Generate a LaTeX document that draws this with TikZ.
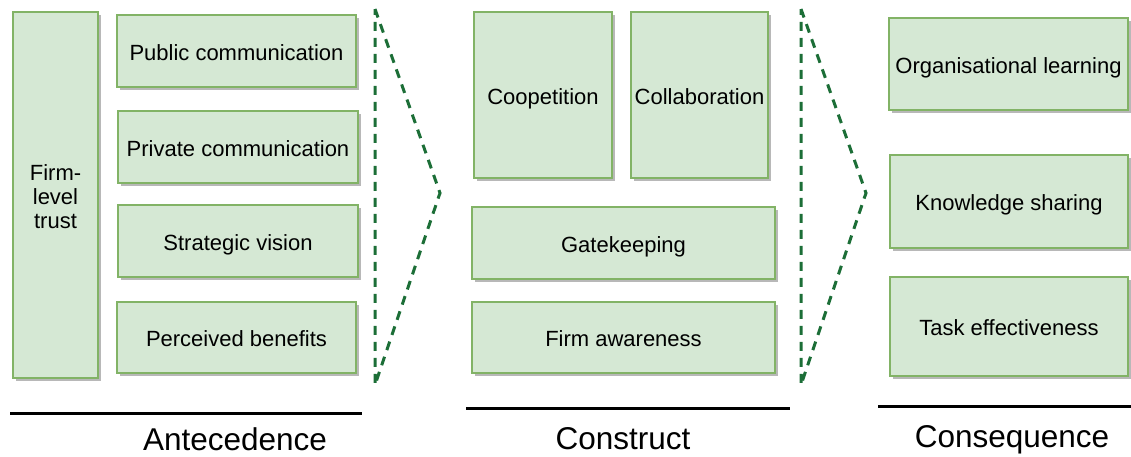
\documentclass[tikz,border=0pt]{standalone}
\usepackage{fontspec}
\setmainfont{Liberation Sans}
\usetikzlibrary{shadows}
\definecolor{boxfill}{HTML}{D5E8D4}
\definecolor{boxline}{HTML}{82B366}
\definecolor{chevgreen}{RGB}{28,110,55}
\tikzset{
  gbox/.style={draw=boxline, fill=boxfill, line width=1.5pt, inner sep=0pt, align=center,
    font=\fontsize{22}{25}\selectfont,
    drop shadow={fill=black!28, opacity=1, shadow xshift=3pt, shadow yshift=-3pt}},
  chev/.style={draw=chevgreen, line width=3pt, dash pattern=on 9pt off 7pt},
  baseline rule/.style={draw=black, line width=3pt},
  sectlabel/.style={font=\fontsize{31.5}{34}\selectfont, anchor=base, inner sep=0pt}
}
\newcommand{\gboxat}[6]{%
  \node[gbox, minimum width={(#4)-(#2)}, minimum height={(#5)-(#3)}] (#1) at ({((#2)+(#4))/2},{((#3)+(#5))/2}) {\raisebox{-4pt}[\height][\depth]{\begin{tabular}{@{}c@{}}#6\end{tabular}}};}
\begin{document}
\begin{tikzpicture}[x=1pt,y=-1pt]
\useasboundingbox (0,0) rectangle (1131,456);
% Antecedence
\gboxat{trust}{13}{12}{98}{378}{Firm-\\[-1pt]level\\[-1pt]trust}
\gboxat{pub}{117}{15}{356}{87}{Public communication}
\gboxat{priv}{118}{111}{358}{183}{Private communication}
\gboxat{strat}{118}{205}{358}{277}{Strategic vision}
\gboxat{perc}{117}{302}{356}{373}{Perceived benefits}
% Construct
\gboxat{coop}{474}{12}{612}{178}{Coopetition}
\gboxat{collab}{631}{12}{768}{178}{Collaboration}
\gboxat{gate}{472}{207}{775}{279}{Gatekeeping}
\gboxat{aware}{472}{302}{775}{373}{Firm awareness}
% Consequence
\gboxat{org}{889}{18}{1128}{110}{Organisational learning}
\gboxat{know}{890}{155}{1128}{248}{Knowledge sharing}
\gboxat{task}{890}{277}{1128}{376}{Task effectiveness}
% chevrons
\coordinate (c1a) at (375,9);
\coordinate (c1b) at (440,193);
\coordinate (c1c) at (375,385);
\draw[chev] (c1a) -- (c1b) -- (c1c) -- cycle;
\coordinate (c2a) at (801,9);
\coordinate (c2b) at (866,193);
\coordinate (c2c) at (801,385);
\draw[chev] (c2a) -- (c2b) -- (c2c) -- cycle;
% rules
\coordinate (r1a) at (10,413);
\coordinate (r1b) at (362,413);
\draw[baseline rule] (r1a) -- (r1b);
\coordinate (r2a) at (466,408);
\coordinate (r2b) at (790,408);
\draw[baseline rule] (r2a) -- (r2b);
\coordinate (r3a) at (878,406);
\coordinate (r3b) at (1131,406);
\draw[baseline rule] (r3a) -- (r3b);
% labels
\node[sectlabel] (lab1) at (235,450) {Antecedence};
\node[sectlabel] (lab2) at (623,449) {Construct};
\node[sectlabel] (lab3) at (1012,447) {Consequence};
\end{tikzpicture}
\end{document}
